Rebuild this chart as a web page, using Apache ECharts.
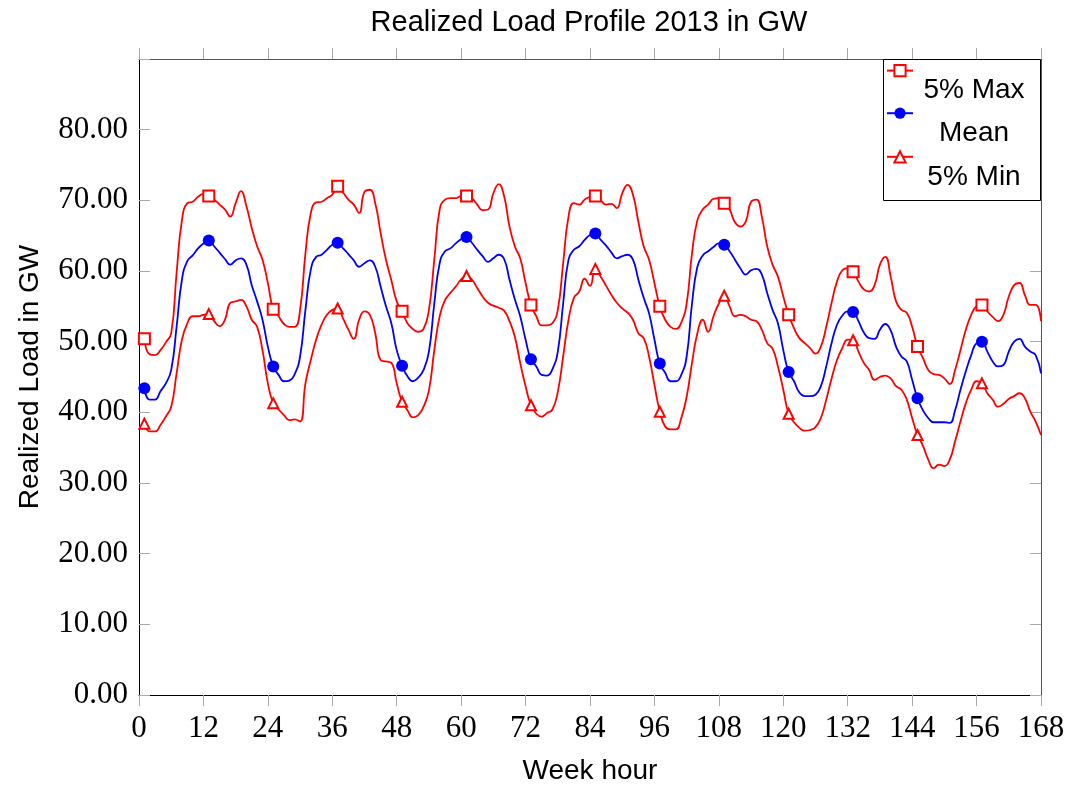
<!DOCTYPE html>
<html>
<head>
<meta charset="utf-8">
<script src="https://cdn.jsdelivr.net/npm/echarts@6/dist/echarts.min.js"></script>
<style>
html,body{margin:0;padding:0;background:#fff;}
#chart{width:1067px;height:787px;}
</style>
</head>
<body>
<div id="chart"></div>
<script>
// Week hours 1..168
var hours = [];
for (var h = 1; h <= 168; h++) hours.push(h);

var maxLoad = [
50.4,48.2,48.1,48.8,49.9,51.2,59.7,67.2,69.6,69.8,70.5,70.9,
70.6,70.1,69.4,68.7,67.7,69.6,71.3,69.2,66.1,63.5,61.6,58.3,
54.6,53.6,52.5,52.1,52.1,54.5,62.5,68.2,69.7,69.8,70.3,70.8,
72.0,71.1,70.1,69.4,68.2,71.2,71.5,69.6,65.4,61.6,58.7,55.7,
54.3,52.6,51.8,51.4,51.8,54.5,61.6,68.7,70.1,70.3,70.3,70.6,
70.6,70.3,69.4,68.6,68.7,71.0,72.3,70.6,66.3,63.5,61.8,58.3,
55.2,53.6,52.3,52.3,52.6,54.5,61.1,67.7,69.6,69.4,70.1,70.5,
70.6,70.0,69.4,69.5,68.9,71.0,72.2,70.8,67.0,63.5,61.6,58.3,
55.0,53.1,52.1,51.8,52.7,55.4,62.5,67.2,68.7,69.4,70.2,70.3,
69.6,68.7,66.9,66.3,67.0,69.8,70.1,67.7,63.5,60.9,59.2,56.4,
53.8,51.9,50.5,49.8,49.1,48.3,49.3,52.1,55.5,58.5,60.1,60.4,
59.9,58.5,57.4,57.1,58.0,60.9,62.0,59.2,55.7,54.5,54.1,52.1,
49.3,47.7,46.0,45.4,45.3,44.8,44.0,46.0,48.8,51.7,53.8,55.0,
55.2,54.3,53.5,52.9,53.8,56.4,58.0,58.3,56.6,55.2,55.2,52.9
];

var meanLoad = [
43.4,41.8,41.8,43.0,44.1,46.0,52.1,58.8,61.4,62.2,63.2,63.9,
64.3,63.5,62.6,61.7,60.9,61.5,61.8,60.9,58.0,55.7,53.1,49.3,
46.5,45.3,44.4,44.5,45.4,47.9,54.5,60.2,62.0,62.3,63.0,63.7,
64.0,63.2,62.4,61.5,60.6,61.1,61.5,60.6,57.8,55.0,52.6,48.8,
46.6,45.1,44.4,44.9,46.0,48.6,55.4,61.1,62.8,63.2,63.9,64.5,
64.8,64.0,63.0,62.1,61.3,61.8,62.3,61.7,58.8,56.0,53.6,50.3,
47.5,46.5,45.3,45.2,46.1,48.6,55.4,61.6,63.0,63.5,64.4,65.1,
65.3,64.4,63.6,62.6,61.8,62.1,62.3,61.6,58.8,56.2,54.0,50.3,
46.9,45.6,44.4,44.4,45.3,47.9,55.4,60.6,62.2,62.8,63.4,63.9,
63.7,62.8,61.6,60.4,59.5,60.1,60.3,59.5,56.9,54.5,52.6,48.8,
45.7,44.4,42.8,42.3,42.3,42.5,43.7,46.5,49.8,52.4,53.7,54.3,
54.2,52.9,51.3,50.5,50.4,51.7,52.5,51.6,49.3,47.9,47.2,44.6,
42.0,40.3,39.2,38.6,38.6,38.6,38.5,40.3,43.2,45.8,48.1,49.8,
50.0,48.6,47.2,46.5,46.7,48.6,50.0,50.4,49.3,48.6,48.1,45.5
];

var minLoad = [
38.4,37.3,37.3,38.2,39.4,40.8,45.5,50.3,52.6,53.6,53.6,53.8,
53.9,52.9,52.2,53.1,55.5,55.7,55.9,55.0,53.1,52.1,48.8,44.1,
41.3,40.4,39.6,38.9,39.0,38.7,44.1,47.4,50.3,52.4,53.8,54.5,
54.7,53.3,51.7,50.4,53.1,54.3,53.8,51.2,47.4,47.2,47.0,44.1,
41.5,40.3,39.3,39.6,40.8,43.1,48.8,53.6,55.9,56.9,57.8,58.8,
59.3,58.8,57.6,56.4,55.5,55.1,54.8,54.4,52.9,50.7,47.0,43.7,
41.0,39.8,39.4,39.9,40.4,42.9,47.9,53.1,56.2,57.1,58.9,57.9,
60.3,59.2,57.9,56.6,55.5,54.7,54.1,53.1,51.2,50.5,47.9,43.9,
40.1,38.0,37.6,37.6,39.2,42.2,47.0,51.2,53.1,51.4,53.6,55.4,
56.5,55.0,53.6,53.8,53.6,53.1,52.9,51.7,49.8,49.0,46.5,43.2,
39.8,38.6,37.8,37.4,37.5,37.9,39.2,41.8,44.8,47.4,49.1,50.3,
50.2,48.6,47.0,46.0,44.6,45.0,45.2,44.8,43.7,43.2,41.8,39.2,
36.8,35.3,33.3,32.1,32.6,32.4,33.3,35.9,38.7,41.3,43.2,44.4,
44.1,42.7,41.8,40.8,41.2,41.9,42.3,42.7,42.0,40.1,38.7,36.8
];

var seriesNames = ['5% Max', 'Mean', '5% Min'];
var xTicks = {min: 0, max: 168, interval: 12};
var yTicks = {min: 0, max: 90, interval: 10};

function toData(vals) {
  return hours.map(function (h, i) {
    if (i % 12 === 0) return [h, vals[i]];
    return {value: [h, vals[i]], symbol: 'none'};
  });
}

var serif = 'Liberation Serif';
var sans = 'Liberation Sans';

var chart = echarts.init(document.getElementById('chart'), null, {renderer: 'canvas'});
chart.setOption({
  animation: false,
  backgroundColor: '#fff',
  title: {
    text: 'Realized Load Profile 2013 in GW',
    left: 584, textAlign: 'center', top: 3,
    textStyle: {fontFamily: sans, fontSize: 29, fontWeight: 'normal', color: '#000'}
  },
  grid: {left: 139, right: 26, top: 59, bottom: 92, containLabel: false, outerBoundsMode: 'none'},
  graphic: [{
    type: 'rect', z: 3,
    shape: {x: 883.5, y: 59.5, width: 157, height: 141},
    style: {fill: '#fff', stroke: '#000', lineWidth: 1}
  }],
  legend: {
    z: 10,
    orient: 'vertical',
    left: 886, top: 64,
    padding: 0,
    itemGap: 3,
    itemWidth: 26, itemHeight: 14,
    data: seriesNames,
    formatter: function (n) { return '{a|' + n + '}'; },
    textStyle: {
      rich: {a: {fontFamily: sans, fontSize: 28, color: '#000', width: 112, align: 'center', padding: [40, 0, 0, 0]}}
    }
  },
  xAxis: [{
    type: 'value', min: xTicks.min, max: xTicks.max, interval: xTicks.interval,
    name: 'Week hour', nameLocation: 'middle', nameGap: 62,
    nameTextStyle: {fontFamily: sans, fontSize: 28, color: '#000'},
    axisLine: {show: true, onZero: false, lineStyle: {color: '#000', width: 1}},
    axisTick: {show: true, inside: false, length: 11, lineStyle: {color: '#aaa', width: 1}},
    axisLabel: {fontFamily: serif, fontSize: 31, color: '#000', margin: 18},
    splitLine: {show: false}
  }, {
    type: 'value', position: 'top', min: xTicks.min, max: xTicks.max, interval: xTicks.interval,
    axisLine: {show: true, onZero: false, lineStyle: {color: '#555', width: 1}},
    axisTick: {show: true, inside: false, length: 11, lineStyle: {color: '#aaa', width: 1}},
    axisLabel: {show: false},
    splitLine: {show: false}
  }],
  yAxis: [{
    type: 'value', min: yTicks.min, max: yTicks.max, interval: yTicks.interval,
    name: 'Realized Load in GW', nameLocation: 'middle', nameGap: 95,
    nameTextStyle: {fontFamily: sans, fontSize: 28, color: '#000'},
    axisLine: {show: true, onZero: false, lineStyle: {color: '#000', width: 1}},
    axisTick: {show: true, inside: true, length: 11, lineStyle: {color: '#aaa', width: 1}},
    axisLabel: {
      fontFamily: serif, fontSize: 31, color: '#000', margin: 11,
      formatter: function (v) { return v >= 90 ? '' : v.toFixed(2); }
    },
    splitLine: {show: false}
  }, {
    type: 'value', position: 'right', min: yTicks.min, max: yTicks.max, interval: yTicks.interval,
    axisLine: {show: true, onZero: false, lineStyle: {color: '#555', width: 1}},
    axisTick: {show: true, inside: true, length: 11, lineStyle: {color: '#aaa', width: 1}},
    axisLabel: {show: false},
    splitLine: {show: false}
  }],
  series: [{
    name: seriesNames[0], type: 'line', smooth: 0.5,
    data: toData(maxLoad),
    symbol: 'emptyRect', symbolSize: 11,
    itemStyle: {color: '#ff0000', borderColor: '#ff0000', borderWidth: 1.5},
    lineStyle: {color: '#ff0000', width: 1.8}
  }, {
    name: seriesNames[1], type: 'line', smooth: 0.5,
    data: toData(meanLoad),
    symbol: 'circle', symbolSize: 12,
    itemStyle: {color: '#0000ff'},
    lineStyle: {color: '#0000ff', width: 1.8}
  }, {
    name: seriesNames[2], type: 'line', smooth: 0.5,
    data: toData(minLoad),
    symbol: 'emptyTriangle', symbolSize: 10,
    itemStyle: {color: '#ff0000', borderColor: '#ff0000', borderWidth: 1.5},
    lineStyle: {color: '#ff0000', width: 1.8}
  }]
});
</script>
</body>
</html>
